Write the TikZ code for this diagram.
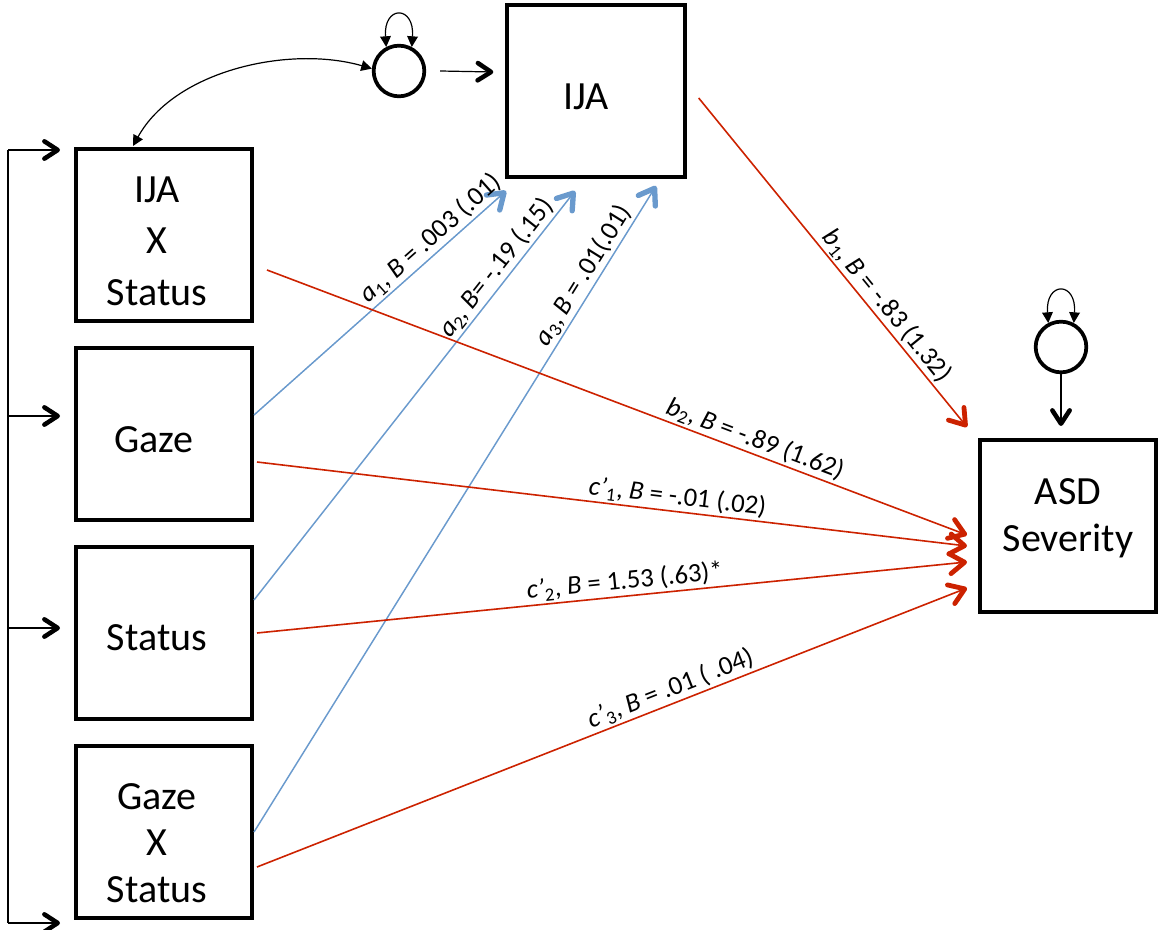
\documentclass[tikz,border=0pt]{standalone}
\usepackage{fontspec}
\setmainfont{Carlito}
\usetikzlibrary{arrows.meta,calc}
\definecolor{pathred}{RGB}{204,34,0}
\definecolor{pathblue}{RGB}{106,154,205}
\pgfdeclarearrow{
  name = Chev,
  defaults = {length = 9pt, width = 12pt, line width = 2pt},
  setup code = {
    \pgfarrowssettipend{.5\pgfarrowlinewidth}
    \pgfarrowssetlineend{-.5\pgfarrowlinewidth}
    \pgfarrowssavethe\pgfarrowlinewidth
    \pgfarrowssavethe\pgfarrowlength
    \pgfarrowssavethe\pgfarrowwidth
  },
  drawing code = {
    \pgfsetlinewidth{\pgfarrowlinewidth}
    \pgfsetdash{}{+0pt}
    \pgfsetroundcap
    \pgfsetroundjoin
    \pgfpathmoveto{\pgfqpoint{-\pgfarrowlength}{.5\pgfarrowwidth}}
    \pgfpathlineto{\pgfqpoint{0pt}{0pt}}
    \pgfpathlineto{\pgfqpoint{-\pgfarrowlength}{-.5\pgfarrowwidth}}
    \pgfusepathqstroke
  },
  parameters = {\the\pgfarrowlinewidth,\the\pgfarrowlength,\the\pgfarrowwidth},
}
\begin{document}
\begin{tikzpicture}[x=0.75pt,y=-0.75pt,
  box/.style={draw, line width=3pt, minimum width=132pt, minimum height=129pt, inner sep=0pt},
  boxtext/.style={align=center, inner sep=0pt, font=\fontsize{30}{38}\selectfont},
  latent/.style={draw, circle, line width=2.8pt, minimum size=38pt, inner sep=0pt},
  blk/.style={draw=black, line width=0.9pt},
  openhead/.style={-{Chev[length=10pt,width=13pt,line width=3.4pt]}},
  tribi/.style={{Triangle[length=8pt,width=8pt]}-{Triangle[length=8pt,width=8pt]}},
  redarr/.style={draw=pathred, line width=1.2pt, -{Chev[length=11pt,width=15pt,line width=3.6pt]}},
  bluearr/.style={draw=pathblue, line width=1.1pt, -{Chev[length=11pt,width=15pt,line width=4pt]}},
  lbl/.style={sloped, above, inner sep=1.5pt, text=black, font=\fontsize{20}{24}\selectfont}
]
\useasboundingbox (0,0) rectangle (1160,930);

% boxes
\node[box] (ijaxs) at (164,235) {};
\node[box] (gaze) at (164,434) {};
\node[box] (status) at (164,633) {};
\node[box] (gxs) at (164,832) {};
\node[box, minimum width=133pt] (ija) at (596,91) {};
\node[box] (asd) at (1068,526) {};
\node[latent] (e1) at (399,71) {};
\node[latent] (e2) at (1061,347) {};

% box texts
\node[boxtext, font=\fontsize{30}{38.5}\selectfont] (ijaxs-t) at ($(ijaxs.center)+(-7,6)$) {IJA\\X\\Status};
\node[boxtext] (gaze-t) at ($(gaze.center)+(-10,6)$) {Gaze};
\node[boxtext] (status-t) at ($(status.center)+(-7,5)$) {Status};
\node[boxtext, font=\fontsize{30}{35}\selectfont] (gxs-t) at ($(gxs.center)+(-7,11)$) {Gaze\\X\\Status};
\node[boxtext] (ija-t) at ($(ija.center)+(-10,6)$) {IJA};
\node[boxtext, font=\fontsize{30}{35}\selectfont] (asd-t) at ($(asd.center)+(0,-8)$) {ASD\\Severity};

% free ends
\coordinate (a1tip) at (506,191);
\coordinate (a2tip) at (575,191);
\coordinate (a3tip) at (656,186);
\coordinate (b1tip) at (967,427);
\coordinate (b2tip) at (967,535);
\coordinate (c1tip) at (967,546);
\coordinate (c2tip) at (967,562);
\coordinate (c3tip) at (967,588);
\coordinate (bar) at (8,0);
\coordinate (bt1) at ($(ijaxs.north west)+(-14,3)$);
\coordinate (bt2) at ($(gaze.west)+(-14,-18)$);
\coordinate (bt3) at ($(status.west)+(-14,-5)$);
\coordinate (bt4) at ($(gxs.south west)+(-14,3)$);

% left bracket
\draw[blk] (bar |- bt1) -- (bar |- bt4);
\draw[blk, openhead] (bar |- bt1) -- (bt1);
\draw[blk, openhead] (bar |- bt2) -- (bt2);
\draw[blk, openhead] (bar |- bt3) -- (bt3);
\draw[blk, openhead] (bar |- bt4) -- (bt4);

% latent errors
\draw[blk, tribi] (e1.118) .. controls ($(e1.118)+(-3,-42)$) and ($(e1.62)+(3,-42)$) .. (e1.62);
\draw[blk, tribi] (e2.118) .. controls ($(e2.118)+(-3,-42)$) and ($(e2.62)+(3,-42)$) .. (e2.62);
\draw[blk, tribi] ($(ijaxs.north)+(-31,-1)$) .. controls (175,70) and (290,45) .. (e1.175);
\draw[blk, openhead] ($(e1.east)+(14,0)$) -- ($(ija.west)+(-12,-19)$);
\draw[blk, openhead] (e2.south) -- (e2.south |- {$(asd.north)+(0,-12)$});

% a paths
\draw[bluearr] ($(gaze.east)+(0,-19)$) -- node[lbl, pos=0.74] {\textit{a}\textsubscript{1}, \textit{B} = .003 (.01)} (a1tip);
\draw[bluearr] ($(status.east)+(0,-33)$) -- node[lbl, pos=0.79] {\textit{a}\textsubscript{2}, \textit{B}= -.19 (.15)} (a2tip);
\draw[bluearr] (gxs.east) -- node[lbl, pos=0.85] {\textit{a}\textsubscript{3}, \textit{B} = .01(.01)} (a3tip);

% b and c paths
\draw[redarr] ($(ija.east)+(12,7)$) -- node[lbl, pos=0.66] {\textit{b}\textsubscript{1}, \textit{B} = -.83 (1.32)} (b1tip);
\draw[redarr] ($(ijaxs.east)+(13,35)$) -- node[lbl, pos=0.69] {\textit{b}\textsubscript{2}, \textit{B} = -.89 (1.62)} (b2tip);
\draw[redarr] ($(gaze.east)+(3,28)$) -- node[lbl, pos=0.59] {\textit{c’}\textsubscript{1}, \textit{B} = -.01 (.02)} (c1tip);
\draw[redarr] ($(status.east)+(3,0)$) -- node[lbl, pos=0.52] {\textit{c’}\textsubscript{2}, \textit{B} = 1.53 (.63)*} (c2tip);
\draw[redarr] ($(gxs.east)+(3,35)$) -- node[lbl, pos=0.59] {\textit{c’}\textsubscript{3}, \textit{B} = .01 ( .04)} (c3tip);
\end{tikzpicture}
\end{document}
